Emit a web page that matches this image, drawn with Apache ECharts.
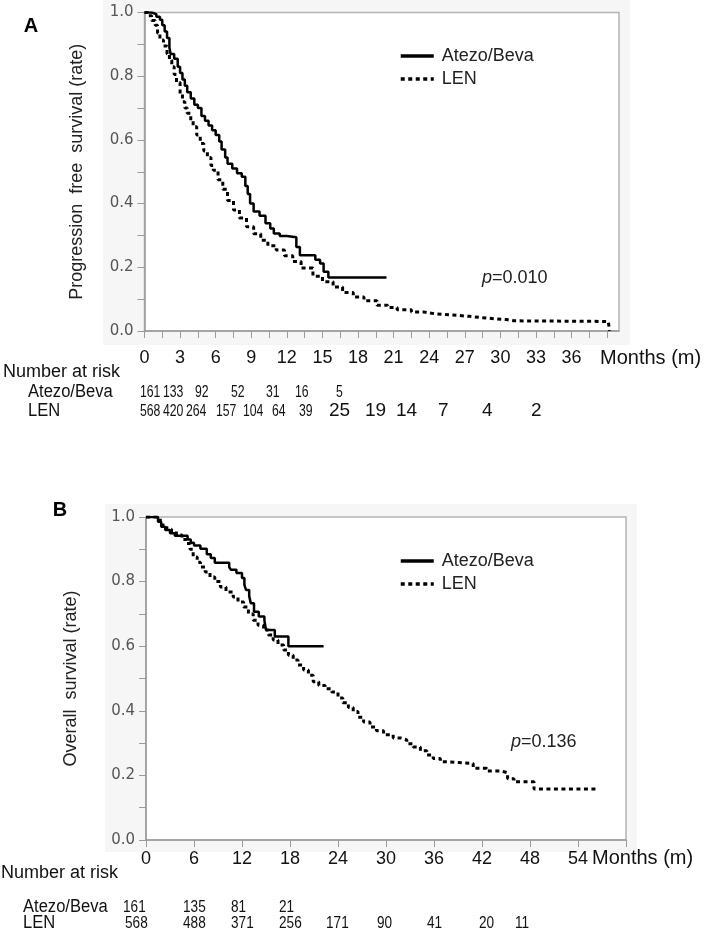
<!DOCTYPE html>
<html><head><meta charset="utf-8">
<script src="https://cdn.jsdelivr.net/npm/echarts@6/dist/echarts.min.js"></script>
<style>html,body{margin:0;padding:0;background:#fff}#c{width:708px;height:938px}</style>
</head><body><div id="c"></div>
<script>
// ---------- DATA ----------
const seriesNames = ['Atezo/Beva', 'LEN'];

// Panel A : progression free survival (months, rate)
const pfsAtezoTime = [0,0.6,1.0,1.3,1.5,1.7,1.9,2.1,2.2,2.5,2.8,3.0,3.2,3.4,3.6,3.9,4.2,4.5,4.8,5.1,5.4,5.7,6.0,6.3,6.5,6.8,7.0,7.4,7.8,8.2,8.5,8.7,8.9,9.2,9.7,10.2,10.6,10.9,11.4,12.0,12.8,13.1,14.4,14.8,15.1,15.5,20.4];
const pfsAtezoRate = [1,0.995,0.987,0.977,0.96,0.94,0.92,0.89,0.87,0.855,0.83,0.81,0.79,0.77,0.75,0.73,0.71,0.70,0.675,0.66,0.645,0.63,0.615,0.595,0.57,0.545,0.525,0.51,0.495,0.484,0.455,0.43,0.40,0.375,0.362,0.338,0.322,0.306,0.298,0.294,0.264,0.238,0.224,0.212,0.186,0.168,0.168];
const pfsLenTime = [0,0.3,0.6,0.9,1.1,1.3,1.6,1.9,2.1,2.3,2.5,2.7,3.0,3.2,3.4,3.6,3.9,4.1,4.4,4.7,5.0,5.3,5.6,5.8,6.2,6.6,7.0,7.5,8.0,8.6,9.2,9.8,10.4,11.1,11.8,12.5,13.2,14.2,15.0,15.9,16.7,17.6,18.5,19.6,20.5,21.3,22.5,23.5,24.5,26.0,27.4,29.0,30.5,31.1,39.1,39.2];
const pfsLenRate = [1,0.99,0.975,0.96,0.935,0.914,0.895,0.87,0.85,0.83,0.805,0.78,0.745,0.72,0.70,0.684,0.66,0.641,0.615,0.589,0.565,0.545,0.52,0.505,0.475,0.445,0.41,0.38,0.355,0.327,0.305,0.285,0.268,0.254,0.236,0.218,0.198,0.172,0.155,0.138,0.121,0.107,0.095,0.081,0.074,0.067,0.060,0.054,0.050,0.046,0.040,0.036,0.032,0.030,0.030,0.0];

// Panel B : overall survival (months, rate)
const osAtezoTime = [0,1.5,1.9,2.4,3.0,3.6,5.2,5.6,6.0,6.8,7.6,8.1,8.6,10.4,10.6,11.3,12.0,12.3,12.5,12.9,13.1,13.5,14.1,14.8,15.0,16.1,17.8,22.2];
const osAtezoRate = [1,0.985,0.97,0.96,0.95,0.942,0.93,0.92,0.912,0.902,0.885,0.873,0.858,0.845,0.837,0.827,0.811,0.79,0.774,0.755,0.733,0.707,0.692,0.68,0.65,0.63,0.60,0.60];
const osLenTime = [0,1.4,2.0,2.6,3.2,3.8,4.5,5.1,5.5,5.9,6.4,6.8,7.4,8.0,8.6,9.3,10.0,10.9,11.5,12.2,12.8,13.4,14.0,14.7,15.3,15.9,16.5,17.2,17.8,18.4,19.0,19.7,20.3,20.9,21.6,22.4,23.2,24.0,24.6,25.3,25.9,26.5,27.2,28.0,28.8,29.7,30.9,31.8,32.6,33.4,34.3,35.1,35.9,36.8,37.6,40.9,42.6,44.3,45.2,46.0,48.5,56.5];
const osLenRate = [1,0.99,0.975,0.962,0.955,0.944,0.93,0.918,0.9,0.876,0.86,0.845,0.83,0.814,0.80,0.783,0.768,0.752,0.737,0.721,0.70,0.68,0.665,0.65,0.635,0.619,0.604,0.588,0.572,0.557,0.542,0.526,0.51,0.49,0.478,0.468,0.458,0.44,0.425,0.41,0.398,0.38,0.365,0.35,0.338,0.326,0.316,0.31,0.298,0.288,0.276,0.263,0.252,0.242,0.237,0.222,0.214,0.208,0.19,0.18,0.158,0.158];

// Tick labels
const xTickLabelsA = ['0','3','6','9','12','15','18','21','24','27','30','33','36'];
const xTickLabelsB = ['0','6','12','18','24','30','36','42','48','54'];
const yTickLabels = ['0.0','0.2','0.4','0.6','0.8','1.0'];

// Numbers at risk
const riskAtezoA = [161,133,92,52,31,16,5];
const riskLenA = [568,420,264,157,104,64,39,25,19,14,7,4,2];
const riskAtezoB = [161,135,81,21];
const riskLenB = [568,488,371,256,171,90,41,20,11];
const pValueA = '0.010';
const pValueB = '0.136';

// ---------- LAYOUT (pixels, text placement only) ----------
const riskXAtezoA = [140,163,195,231,266,295,336];
const riskXLenA = [140,163,186,216,243,272,299,329,365,396,438,482,531];
const riskXAtezoB = [123,183,231,279];
const riskXLenB = [125,183,231,279,326,377,427,479,515];

const zip = (t, r) => t.map((v, i) => [v, r[i]]);
const FONT = "'Liberation Sans', Arial, sans-serif";
const AX = '#9a9a9a';

function yAxisCfg(gridIndex, name, gap) {
  const ticks = []; for (let k = 0; k <= 10; k++) ticks.push(k / 10);
  return {
    type: 'value', gridIndex, min: 0, max: 1,
    name, nameLocation: 'middle', nameGap: gap, nameRotate: 90,
    nameTextStyle: { fontFamily: FONT, fontSize: 18, color: '#222' },
    axisLine: { show: true, lineStyle: { color: AX, width: 1.5 } },
    axisTick: { show: true, length: 7, lineStyle: { color: AX }, customValues: ticks },
    axisLabel: { customValues: yTickLabels.map(s => parseFloat(s)), formatter: v => yTickLabels[Math.round(v * 5)],
      fontFamily: "'DejaVu Sans', Verdana, sans-serif", fontSize: 15, color: '#555', margin: 11 },
    splitLine: { show: false }
  };
}

const ticksA = []; for (let k = 0; k <= 26; k++) ticksA.push(k * 1.5);
const ticksB = []; for (let k = 0; k <= 10; k++) ticksB.push(k * 6);

function legendCfg(top) {
  return { left: 394, top, orient: 'vertical', itemWidth: 33, itemHeight: 14, itemGap: 5, selectedMode: false,
    data: seriesNames, itemStyle: { opacity: 0 }, lineStyle: { width: 3.5 },
    textStyle: { fontFamily: FONT, fontSize: 18, lineHeight: 18, color: '#222', padding: [0, 0, 0, 3] } };
}

const option = {
  animation: false,
  backgroundColor: '#fff',
  grid: [
    { left: 144.5, top: 12.5, width: 474.5, height: 318.5, show: true, backgroundColor: '#fff', borderColor: '#b4b4b4', borderWidth: 1.5 },
    { left: 146, top: 517, width: 480, height: 323, show: true, backgroundColor: '#fff', borderColor: '#b4b4b4', borderWidth: 1.5 }
  ],
  xAxis: [
    { type: 'value', gridIndex: 0, min: 0, max: 40,
      axisLine: { show: true, onZero: false, lineStyle: { color: AX, width: 1.5 } },
      axisTick: { show: true, length: 7, lineStyle: { color: AX }, customValues: ticksA },
      axisLabel: { customValues: xTickLabelsA.map(Number), formatter: v => xTickLabelsA[Math.round(v / 3)],
        fontFamily: FONT, fontSize: 18, color: '#111', margin: 18 },
      splitLine: { show: false } },
    { type: 'value', gridIndex: 1, min: 0, max: 60,
      axisLine: { show: true, onZero: false, lineStyle: { color: AX, width: 1.5 } },
      axisTick: { show: true, length: 7, lineStyle: { color: AX }, customValues: ticksB },
      axisLabel: { customValues: xTickLabelsB.map(Number), formatter: v => xTickLabelsB[Math.round(v / 6)],
        fontFamily: FONT, fontSize: 18, color: '#111', margin: 10 },
      splitLine: { show: false } }
  ],
  yAxis: [
    yAxisCfg(0, 'Progression  free  survival (rate)', 58),
    yAxisCfg(1, 'Overall  survival (rate)', 66)
  ],
  legend: [legendCfg(42), legendCfg(547)],
  series: [
    { name: seriesNames[0], type: 'line', step: 'end', xAxisIndex: 0, yAxisIndex: 0, symbol: 'none',
      lineStyle: { color: '#000', width: 2.5 }, itemStyle: { color: '#000' }, data: zip(pfsAtezoTime, pfsAtezoRate) },
    { name: seriesNames[1], type: 'line', step: 'end', xAxisIndex: 0, yAxisIndex: 0, symbol: 'none',
      lineStyle: { color: '#000', width: 3, type: [4, 3.5] }, itemStyle: { color: '#000' }, data: zip(pfsLenTime, pfsLenRate) },
    { name: seriesNames[0], type: 'line', step: 'end', xAxisIndex: 1, yAxisIndex: 1, symbol: 'none',
      lineStyle: { color: '#000', width: 2.5 }, itemStyle: { color: '#000' }, data: zip(osAtezoTime, osAtezoRate) },
    { name: seriesNames[1], type: 'line', step: 'end', xAxisIndex: 1, yAxisIndex: 1, symbol: 'none',
      lineStyle: { color: '#000', width: 3, type: [4, 3.5] }, itemStyle: { color: '#000' }, data: zip(osLenTime, osLenRate) }
  ]
};

// text / decoration graphics
const g = [];
g.push({ type: 'rect', z: -10, shape: { x: 103, y: 0, width: 527, height: 345 }, style: { fill: '#f6f6f6' } });
g.push({ type: 'rect', z: -10, shape: { x: 105, y: 504, width: 532, height: 348 }, style: { fill: '#f6f6f6' } });
function txt(text, x, y, opts, sx) {
  g.push({ type: 'text', z: 10, x, y, scaleX: sx || 1,
    style: Object.assign({ text, fill: '#111', font: '18px ' + FONT, align: 'left', verticalAlign: 'middle' }, opts || {}) });
}
txt('A', 31, 26, { font: 'bold 20px ' + FONT, align: 'center', fill: '#000' });
txt('B', 60, 510, { font: 'bold 20px ' + FONT, align: 'center', fill: '#000' });
function pval(v, x, y) {
  g.push({ type: 'text', z: 10, x, y, style: { text: '{i|p}=' + v, fill: '#222', font: '18px ' + FONT, verticalAlign: 'middle',
    rich: { i: { fontStyle: 'italic', fontSize: 18, fontFamily: FONT, fill: '#222' } } } });
}
pval(pValueA, 482, 278);
pval(pValueB, 511, 742);
txt('Months (m)', 600, 358, { font: '20px ' + FONT });
txt('Months (m)', 592, 858, { font: '20px ' + FONT });
txt('Number at risk', 3, 372, { font: '18px ' + FONT });
txt('Number at risk', 1, 873, { font: '18px ' + FONT });
txt(seriesNames[0], 28, 392, { font: '18px ' + FONT }, 0.92);
txt(seriesNames[1], 28, 411, { font: '18px ' + FONT }, 0.92);
txt(seriesNames[0], 23, 907, { font: '18px ' + FONT }, 0.92);
txt(seriesNames[1], 23, 923, { font: '18px ' + FONT }, 0.92);
riskAtezoA.forEach((v, i) => txt(String(v), riskXAtezoA[i], 392, { font: '17px ' + FONT }, 0.72));
riskLenA.forEach((v, i) => i >= 7
  ? txt(String(v), riskXLenA[i], 411, { font: '19px ' + FONT }, 1)
  : txt(String(v), riskXLenA[i], 411, { font: '17px ' + FONT }, 0.72));
riskAtezoB.forEach((v, i) => txt(String(v), riskXAtezoB[i], 907, { font: '17px ' + FONT }, 0.8));
riskLenB.forEach((v, i) => txt(String(v), riskXLenB[i], 923, { font: '17px ' + FONT }, 0.8));
option.graphic = { elements: g };

const chart = echarts.init(document.getElementById('c'), null, { renderer: 'canvas', width: 708, height: 938 });
chart.setOption(option);
</script>
</body></html>
